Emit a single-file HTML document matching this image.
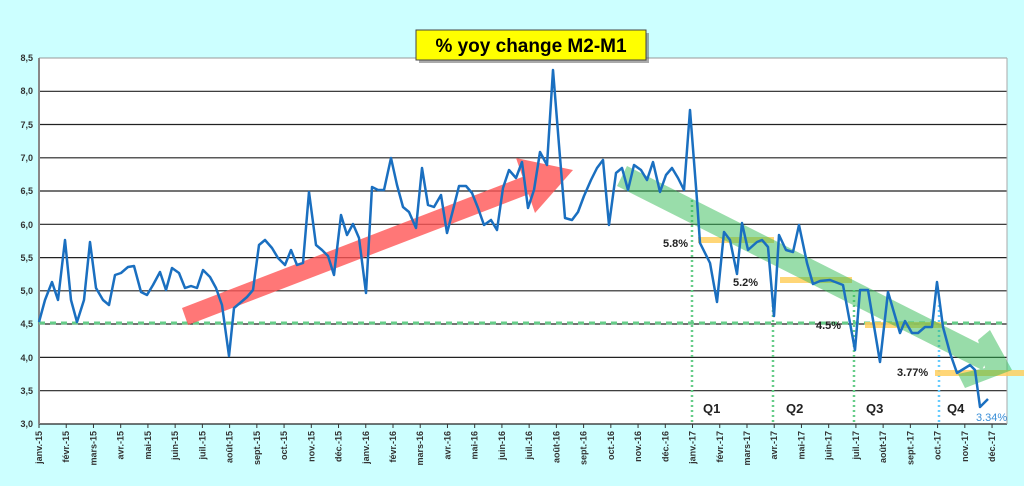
<!DOCTYPE html>
<html><head><meta charset="utf-8"><style>
body{margin:0;background:#ccffff;width:1024px;height:481px;overflow:hidden;font-family:"Liberation Sans",sans-serif}
</style></head><body>
<svg width="1024" height="481" xmlns="http://www.w3.org/2000/svg" font-family="Liberation Sans, sans-serif">
<rect width="1024" height="481" fill="#ccffff"/>
<rect x="39" y="58" width="968" height="366" fill="#fff"/>
<g stroke="#222" stroke-width="1.2">
<line x1="39" x2="1007" y1="91.3" y2="91.3"/><line x1="39" x2="1007" y1="124.5" y2="124.5"/>
<line x1="39" x2="1007" y1="157.8" y2="157.8"/><line x1="39" x2="1007" y1="191" y2="191"/>
<line x1="39" x2="1007" y1="224.3" y2="224.3"/><line x1="39" x2="1007" y1="257.6" y2="257.6"/>
<line x1="39" x2="1007" y1="290.8" y2="290.8"/><line x1="39" x2="1007" y1="324" y2="324"/>
<line x1="39" x2="1007" y1="357.4" y2="357.4"/><line x1="39" x2="1007" y1="390.7" y2="390.7"/>
<line x1="39" x2="1007" y1="424" y2="424"/>
</g>
<line x1="39" x2="1007" y1="58" y2="58" stroke="#999"/>
<line x1="39" x2="39" y1="58" y2="424" stroke="#888" stroke-width="2"/>
<line x1="1007" x2="1007" y1="58" y2="424" stroke="#aaa"/>
<g font-size="9" font-weight="bold" fill="#333" text-anchor="end">
<text x="33" y="61">8,5</text><text x="33" y="94">8,0</text><text x="33" y="128">7,5</text>
<text x="33" y="161">7,0</text><text x="33" y="194">6,5</text><text x="33" y="228">6,0</text>
<text x="33" y="261">5,5</text><text x="33" y="294">5,0</text><text x="33" y="327">4,5</text>
<text x="33" y="361">4,0</text><text x="33" y="394">3,5</text><text x="33" y="427">3,0</text>
</g>
<g id="months" font-size="9" font-weight="bold" fill="#333" text-anchor="end"></g>
<line x1="39" x2="1007" y1="323" y2="323" stroke="#66cc88" stroke-width="3" stroke-dasharray="6,5"/>
<g stroke="#66cc88" stroke-width="2.5" stroke-dasharray="2,3">
<line x1="692" x2="692" y1="200" y2="424"/><line x1="773" x2="773" y1="300" y2="424"/><line x1="854" x2="854" y1="290" y2="424"/>
</g>
<line x1="939" x2="939" y1="305" y2="424" stroke="#66ccff" stroke-width="2.5" stroke-dasharray="2,3"/>
<g stroke="#ffd060" stroke-width="6" opacity="0.85">
<line x1="698" x2="774" y1="240" y2="240"/><line x1="780" x2="852" y1="280" y2="280"/>
<line x1="865" x2="943" y1="325" y2="325"/><line x1="935" x2="1024" y1="373" y2="373"/>
</g>
<g fill="#ff5555" opacity="0.8">
<polygon points="182,308 530,174 537,191 188,325"/>
<polygon points="516,158 573,170 535,213"/>
</g>
<g opacity="0.5" fill="#33bb55">
<polygon points="627,166 992,350 982,370 617,186"/>
<polygon points="978,340 990,330 1012,370 965,388 958,374 985,368"/>
</g>
<polyline fill="none" stroke="#1a6fc0" stroke-width="2.5" stroke-linejoin="round" points="39,322 45,300 52,282 58,300 65,240 71,300 77,322 84,300 90,242 96,288 103,300 109,305 115,275 121,273 128,267 134,266 141,292 147,295 153,285 160,272 166,290 172,268 179,273 185,288 191,286 197,288 203,270 210,277 216,288 222,305 229,356 234,308 240,303 247,297 253,290 259,245 265,240 272,248 278,258 285,265 291,250 297,265 303,263 309,192 316,245 322,250 328,256 334,275 341,215 347,235 353,224 359,238 366,293 372,187 378,190 384,190 391,158 397,185 403,207 409,212 416,228 422,168 428,205 434,207 441,195 447,233 453,210 459,186 466,186 472,193 478,208 484,225 491,220 497,230 503,188 509,170 516,178 522,162 528,208 534,190 540,152 547,165 553,70 559,145 565,218 572,220 578,212 584,196 591,180 597,168 603,160 609,225 616,173 622,168 628,190 634,165 641,170 647,180 653,162 660,192 666,175 672,168 678,178 684,190 690,110 697,200 700,243 710,263 717,302 724,232 730,240 737,274 742,223 748,250 757,242 762,240 768,247 774,316 779,235 786,250 793,252 799,225 807,263 813,284 820,281 830,280 843,285 855,350 860,290 868,290 880,362 888,292 900,333 905,321 912,333 918,333 925,327 932,327 937,282 943,327 950,353 957,373 970,365 975,370 980,407 988,399"/>
<g font-size="11" font-weight="bold" fill="#222">
<text x="663" y="247">5.8%</text><text x="733" y="286">5.2%</text><text x="816" y="329">4.5%</text><text x="897" y="376">3.77%</text>
<text x="703" y="413" font-size="13">Q1</text><text x="786" y="413" font-size="13">Q2</text><text x="866" y="413" font-size="13">Q3</text><text x="947" y="413" font-size="13">Q4</text>
<text x="976" y="421" fill="#3a8fd8" font-weight="normal">3.34%</text>
</g>
<rect x="419" y="33" width="230" height="30" fill="#555" opacity="0.5"/>
<rect x="416" y="30" width="230" height="30" fill="#ffff00" stroke="#444"/>
<text x="531" y="52" text-anchor="middle" font-size="19" font-weight="bold" fill="#000">% yoy change M2-M1</text>
</svg>
<script>
var m=["janv.","févr.","mars","avr.","mai","juin","juil.","août","sept.","oct.","nov.","déc."];
var g=document.getElementById("months"),s="";
for(var i=0;i<36;i++){var x=39+i*27.23,y=["15","16","17"][Math.floor(i/12)];
s+='<line x1="'+x+'" x2="'+x+'" y1="424" y2="428" stroke="#333"/>';
s+='<text transform="translate('+(x+3)+',431) rotate(-90)">'+m[i%12]+'-'+y+'</text>';}
g.innerHTML=s;
</script>
</body></html>
